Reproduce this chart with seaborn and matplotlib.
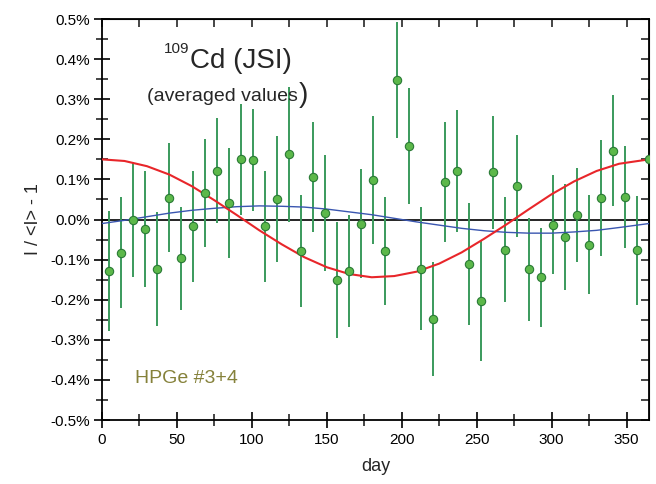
import numpy as np
import pandas as pd
import seaborn as sns
import matplotlib.pyplot as plt
from matplotlib.ticker import MultipleLocator, FuncFormatter

# averaged points (day, relative deviation in %, error in %)
days = [4.8 + 8 * k for k in range(46)]
dev = [-0.129, -0.083, 0.000, -0.023, -0.124, 0.054, -0.097, -0.017, 0.067, 0.122,
       0.041, 0.150, 0.148, -0.017, 0.051, 0.163, -0.078, 0.106, 0.016, -0.151,
       -0.128, -0.010, 0.098, -0.078, 0.348, 0.183, -0.123, -0.248, 0.093, 0.121,
       -0.112, -0.203, 0.118, -0.075, 0.084, -0.124, -0.144, -0.013, -0.044, 0.011,
       -0.063, 0.054, 0.172, 0.057, -0.077, 0.150]
err = [0.149, 0.138, 0.144, 0.145, 0.142, 0.136, 0.129, 0.138, 0.135, 0.130,
       0.138, 0.139, 0.128, 0.138, 0.158, 0.168, 0.140, 0.136, 0.145, 0.145,
       0.139, 0.135, 0.159, 0.134, 0.145, 0.145, 0.153, 0.142, 0.149, 0.153,
       0.152, 0.151, 0.141, 0.131, 0.127, 0.128, 0.124, 0.123, 0.132, 0.117,
       0.123, 0.145, 0.138, 0.127, 0.135, 0.175]

# curves
curve_days = [0, 15, 30, 45, 60, 75, 90, 105, 120, 135, 150, 165, 180, 195,
              210, 225, 240, 255, 270, 285, 300, 315, 330, 345, 365]
red_curve = [0.150, 0.146, 0.133, 0.112, 0.083, 0.048, 0.011, -0.027, -0.062,
             -0.094, -0.119, -0.136, -0.144, -0.141, -0.130, -0.110, -0.082,
             -0.048, -0.012, 0.026, 0.063, 0.095, 0.121, 0.139, 0.150]
blue_curve = [-0.010, -0.002, 0.007, 0.016, 0.023, 0.028, 0.032, 0.034, 0.033,
              0.031, 0.026, 0.019, 0.012, 0.003, -0.006, -0.014, -0.022, -0.028,
              -0.032, -0.034, -0.034, -0.031, -0.027, -0.020, -0.010]

pts = pd.DataFrame({'day': days, 'dev': dev, 'err': err})
curves = pd.DataFrame({'day': curve_days, 'red': red_curve, 'blue': blue_curve})

sns.set_style('ticks')
plt.rcParams['font.family'] = ['Liberation Sans', 'DejaVu Sans']

fig = plt.figure(figsize=(6.56, 4.84), dpi=100)
ax = fig.add_axes([0.1555, 0.1322, 0.8338, 0.8285])

ax.axhline(0, color='black', lw=1.2, zorder=1)
ax.errorbar(pts['day'], pts['dev'], yerr=pts['err'], fmt='none',
            ecolor='#3a9a5c', elinewidth=1.4, capsize=0, zorder=2)
sns.lineplot(data=curves, x='day', y='blue', color='#3a56b0', lw=1.0, ax=ax,
             sort=False, zorder=3)
sns.lineplot(data=curves, x='day', y='red', color='#e8262a', lw=1.5, ax=ax,
             sort=False, zorder=3)
sns.scatterplot(data=pts, x='day', y='dev', color='#5cb84a', edgecolor='#2a7a36',
                linewidth=0.8, s=36, ax=ax, zorder=4)

ax.set_xlim(0, 365)
ax.set_ylim(-0.5, 0.5)
ax.xaxis.set_major_locator(MultipleLocator(50))
ax.xaxis.set_minor_locator(MultipleLocator(25))
ax.yaxis.set_major_locator(MultipleLocator(0.1))
ax.yaxis.set_minor_locator(MultipleLocator(0.05))
ax.yaxis.set_major_formatter(FuncFormatter(lambda v, p: f'{v:.1f}%'))
ax.tick_params(which='major', direction='inout', length=12, width=1.2,
               labelsize=11, colors='black', pad=3)
ax.tick_params(which='minor', direction='inout', length=8, width=1.2)
for s in ax.spines.values():
    s.set_linewidth(1.3)
    s.set_color('black')

top = ax.secondary_xaxis('top')
top.xaxis.set_major_locator(MultipleLocator(25))
top.tick_params(direction='in', length=6, width=1.2, labeltop=False)
right = ax.secondary_yaxis('right')
right.yaxis.set_major_locator(MultipleLocator(0.05))
right.tick_params(direction='in', length=6, width=1.2, labelright=False)

ax.set_xlabel('day', fontsize=13, labelpad=8)
ax.set_ylabel('I / <I> - 1', fontsize=13, labelpad=6)

ax.text(41, 0.4425, '109', fontsize=11, ha='left', va='top')
ax.text(59, 0.396, 'Cd (JSI)', fontsize=20, ha='left', va='center')
ax.text(30, 0.3075, '(averaged values', fontsize=14, ha='left', va='center')
ax.text(131, 0.31, ')', fontsize=20, ha='left', va='center')
ax.text(22.2, -0.396, 'HPGe #3+4', fontsize=14, color='#85813a', ha='left', va='center')

fig.savefig('out.png', dpi=100)
